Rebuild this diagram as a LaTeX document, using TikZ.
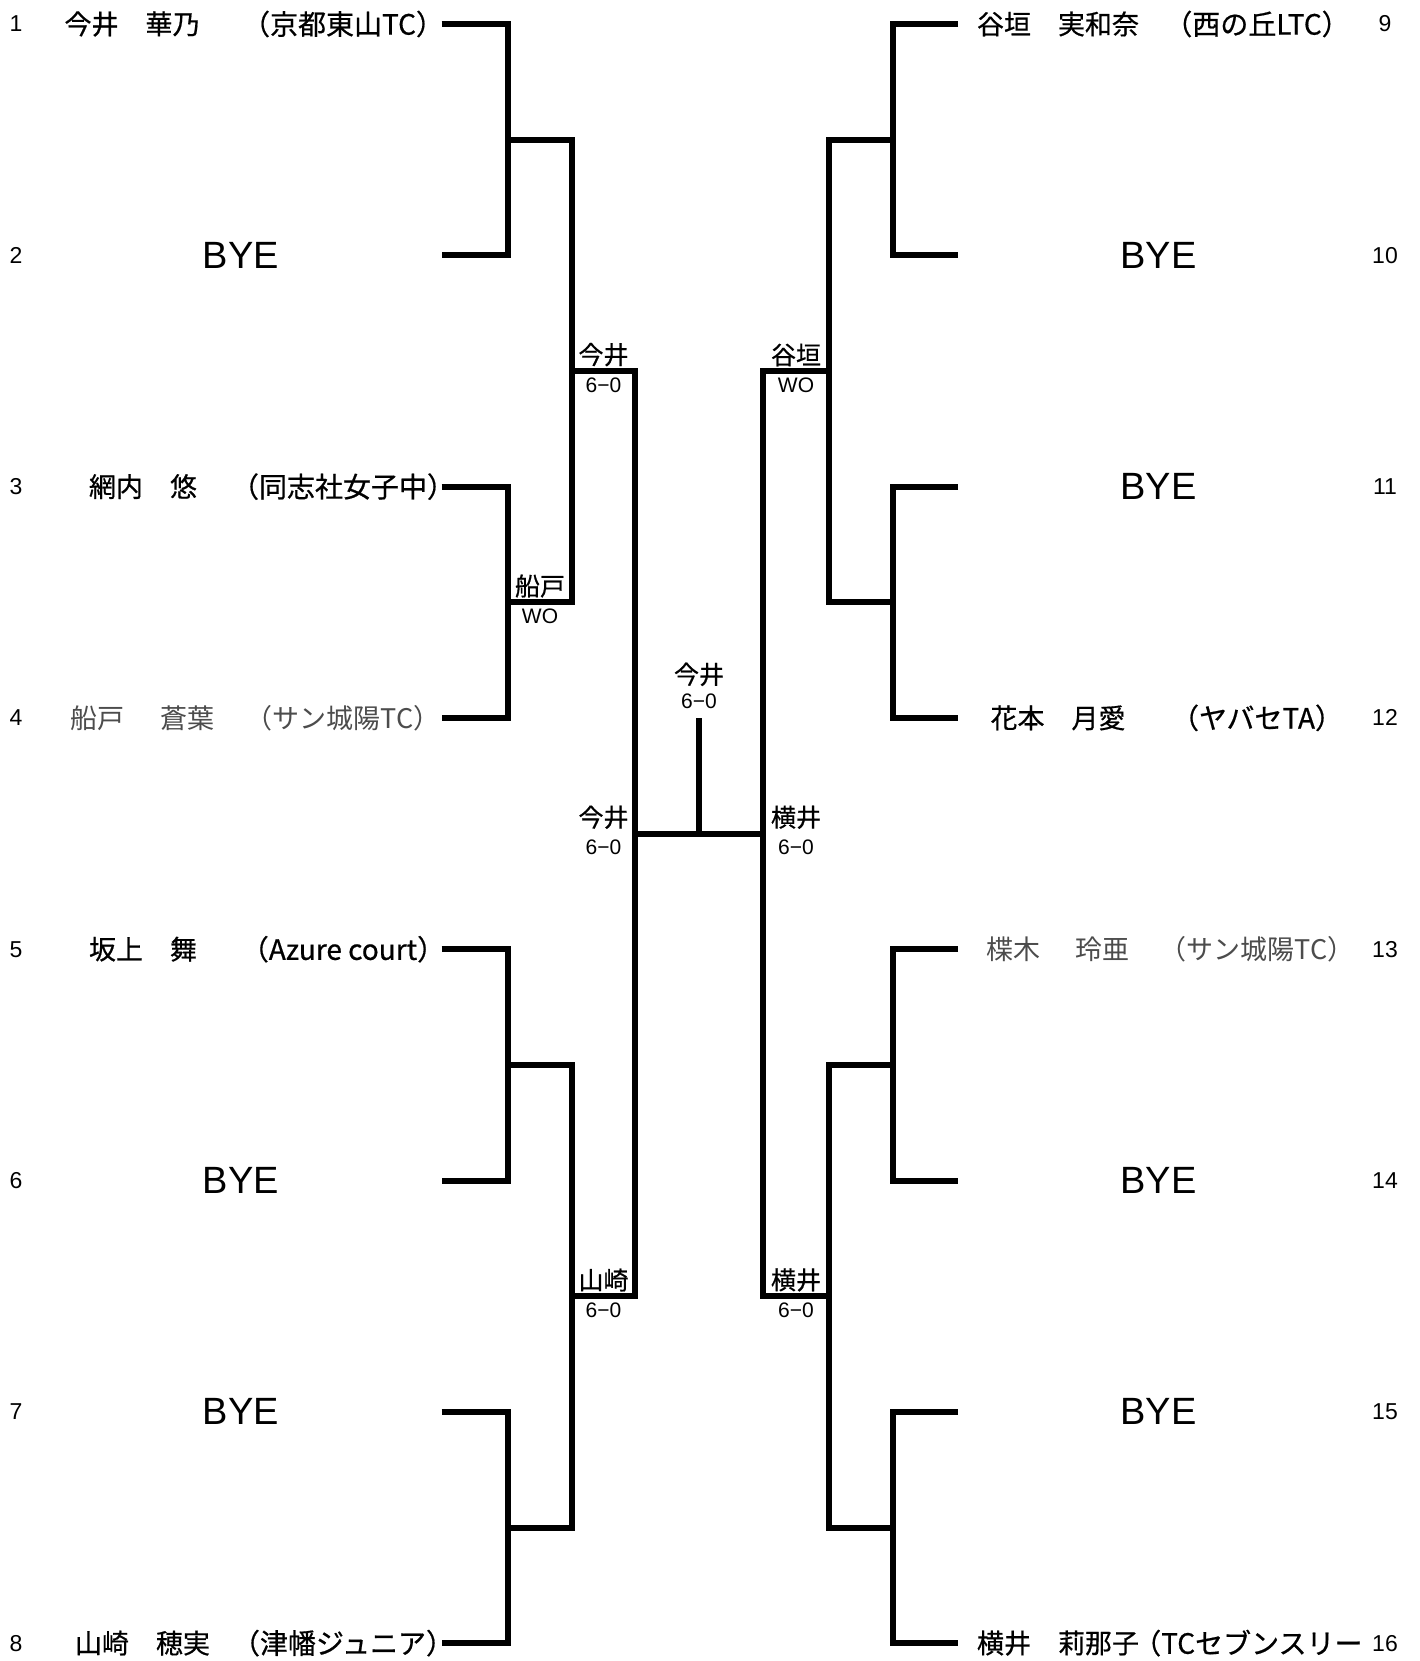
\documentclass[tikz,border=0pt]{standalone}
\usepackage{fontspec}
\setmainfont{Liberation Sans}
\newfontfamily\jpfont[FakeBold=0.6]{Noto Sans CJK JP}
\newfontfamily\jplight{Noto Sans CJK JP}
\usetikzlibrary{positioning,calc}
\definecolor{lightname}{gray}{0.3}
\tikzset{
  bracket/.style={line width=6pt, black},
  player/.style={font=\jpfont\fontsize{27}{27}\selectfont, inner sep=0pt},
  club/.style={font=\jpfont\fontsize{28}{28}\selectfont, inner sep=0pt},
  faded/.style={font=\jplight\fontsize{27}{27}\selectfont, lightname},
  byetext/.style={font=\fontsize{38}{38}\selectfont, inner sep=0pt},
  seed/.style={font=\fontsize{23}{23}\selectfont, inner sep=0pt},
  winner/.style={font=\jpfont\fontsize{25}{25}\selectfont, inner sep=1.5pt, anchor=south},
  score/.style={font=\fontsize{21}{21}\selectfont, inner sep=3.5pt, anchor=north},
}

\begin{document}
\begin{tikzpicture}[x=1pt,y=1pt]
  \useasboundingbox (0,0) rectangle (1419,-1661);
  % Player lines and seed numbers
  \foreach \i in {1,...,8} {
    \pgfmathtruncatemacro\j{\i+8}
    \coordinate (p\i) at (441.6, {-24-231.3*(\i-1)});
    \coordinate (p\j) at (958, {-24-231.3*(\i-1)});
    \node[seed] (n\i) at (16, {-24-231.3*(\i-1)}) {\i};
    \node[seed] (n\j) at (1385, {-24-231.3*(\i-1)}) {\j};
  }
  % Junctions
  \foreach \k in {1,...,4} {
    \pgfmathtruncatemacro\m{\k+4}
    \coordinate (a\k) at (508, {-139.7-462.6*(\k-1)});
    \coordinate (a\m) at (893, {-139.7-462.6*(\k-1)});
  }
  \coordinate (b1) at (572,-371);
  \coordinate (b2) at (572,-1296.2);
  \coordinate (b3) at (829,-371);
  \coordinate (b4) at (829,-1296.2);
  \coordinate (c1) at (635,-833.6);
  \coordinate (c2) at (763,-833.6);
  \coordinate (f) at (699,-833.6);
  \coordinate (ftop) at (699,-718);

  % Left players
  \node[player] (name1) at (132,-24) {今井　華乃};
  \node[club] (club1) at (343,-24) {（京都東山TC）};
  \node[byetext] (bye2) at (241,-255.3) {BYE};
  \node[player] (name3) at (143,-486.6) {網内　悠};
  \node[club] (club3) at (343,-486.6) {（同志社女子中）};
  \node[player, faded] (name4) at (142.5,-717.9) {船戸\hspace{1.3em}蒼葉};
  \node[club, faded] (club4) at (343,-717.9) {（サン城陽TC）};
  \node[player] (name5) at (143,-949.2) {坂上　舞};
  \node[club] (club5) at (343,-949.2) {（Azure court）};
  \node[byetext] (bye6) at (241,-1180.5) {BYE};
  \node[byetext] (bye7) at (241,-1411.8) {BYE};
  \node[player] (name8) at (142.5,-1643.1) {山崎　穂実};
  \node[club] (club8) at (343,-1643.1) {（津幡ジュニア）};

  % Right players
  \node[player] (name9) at (1058,-24) {谷垣　実和奈};
  \node[club] (club9) at (1257,-24) {（西の丘LTC）};
  \node[byetext] (bye10) at (1158.5,-255.3) {BYE};
  \node[byetext] (bye11) at (1158.5,-486.6) {BYE};
  \node[player] (name12) at (1058,-717.9) {花本　月愛};
  \node[club] (club12) at (1257,-717.9) {（ヤバセTA）};
  \node[player, faded] (name13) at (1058,-949.2) {楪木\hspace{1.3em}玲亜};
  \node[club, faded] (club13) at (1257,-949.2) {（サン城陽TC）};
  \node[byetext] (bye14) at (1158.5,-1180.5) {BYE};
  \node[byetext] (bye15) at (1158.5,-1411.8) {BYE};
  \node[player] (name16) at (1058,-1643.1) {横井　莉那子};
  \node[club, anchor=west] (club16) at (1133,-1643.1) {（TCセブンスリー};

  % Brackets
  \foreach \k in {1,...,8} {
    \pgfmathtruncatemacro\u{2*\k-1}
    \pgfmathtruncatemacro\v{2*\k}
    \draw[bracket] (p\u) -| (a\k) |- (p\v);
  }
  \foreach \k in {1,...,4} {
    \pgfmathtruncatemacro\u{2*\k-1}
    \pgfmathtruncatemacro\v{2*\k}
    \draw[bracket] (a\u) -| (b\k) |- (a\v);
  }
  \draw[bracket] (b1) -| (c1) |- (b2);
  \draw[bracket] (b3) -| (c2) |- (b4);
  \draw[bracket] (c1) -- (c2);
  \draw[bracket] (f) -- (ftop);

  % Results
  \node[winner] (w1) at ([yshift=3]$(a2)!.5!(a2 -| b1)$) {船戸};
  \node[score] (s1) at ([yshift=-3]$(a2)!.5!(a2 -| b1)$) {WO};
  \node[winner] (w2) at ([yshift=3]$(b1)!.5!(b1 -| c1)$) {今井};
  \node[score] (s2) at ([yshift=-3]$(b1)!.5!(b1 -| c1)$) {6−0};
  \node[winner] (w3) at ([yshift=3]$(b2)!.5!(b2 -| c1)$) {山崎};
  \node[score] (s3) at ([yshift=-3]$(b2)!.5!(b2 -| c1)$) {6−0};
  \node[winner] (w4) at ([yshift=3]$(b3)!.5!(b3 -| c2)$) {谷垣};
  \node[score] (s4) at ([yshift=-3]$(b3)!.5!(b3 -| c2)$) {WO};
  \node[winner] (w5) at ([yshift=3]$(b4)!.5!(b4 -| c2)$) {横井};
  \node[score] (s5) at ([yshift=-3]$(b4)!.5!(b4 -| c2)$) {6−0};
  \node[winner] (w6) at ([yshift=3]$(c1)!.5!(c1 -| b1)$) {今井};
  \node[score] (s6) at ([yshift=-3]$(c1)!.5!(c1 -| b1)$) {6−0};
  \node[winner] (w7) at ([yshift=3]$(c2)!.5!(c2 -| b3)$) {横井};
  \node[score] (s7) at ([yshift=-3]$(c2)!.5!(c2 -| b3)$) {6−0};
  \node[score, anchor=south] (fs) at ([yshift=6]ftop) {6−0};
  \node[winner] (fw) [above=2pt of fs] {今井};
\end{tikzpicture}
\end{document}
